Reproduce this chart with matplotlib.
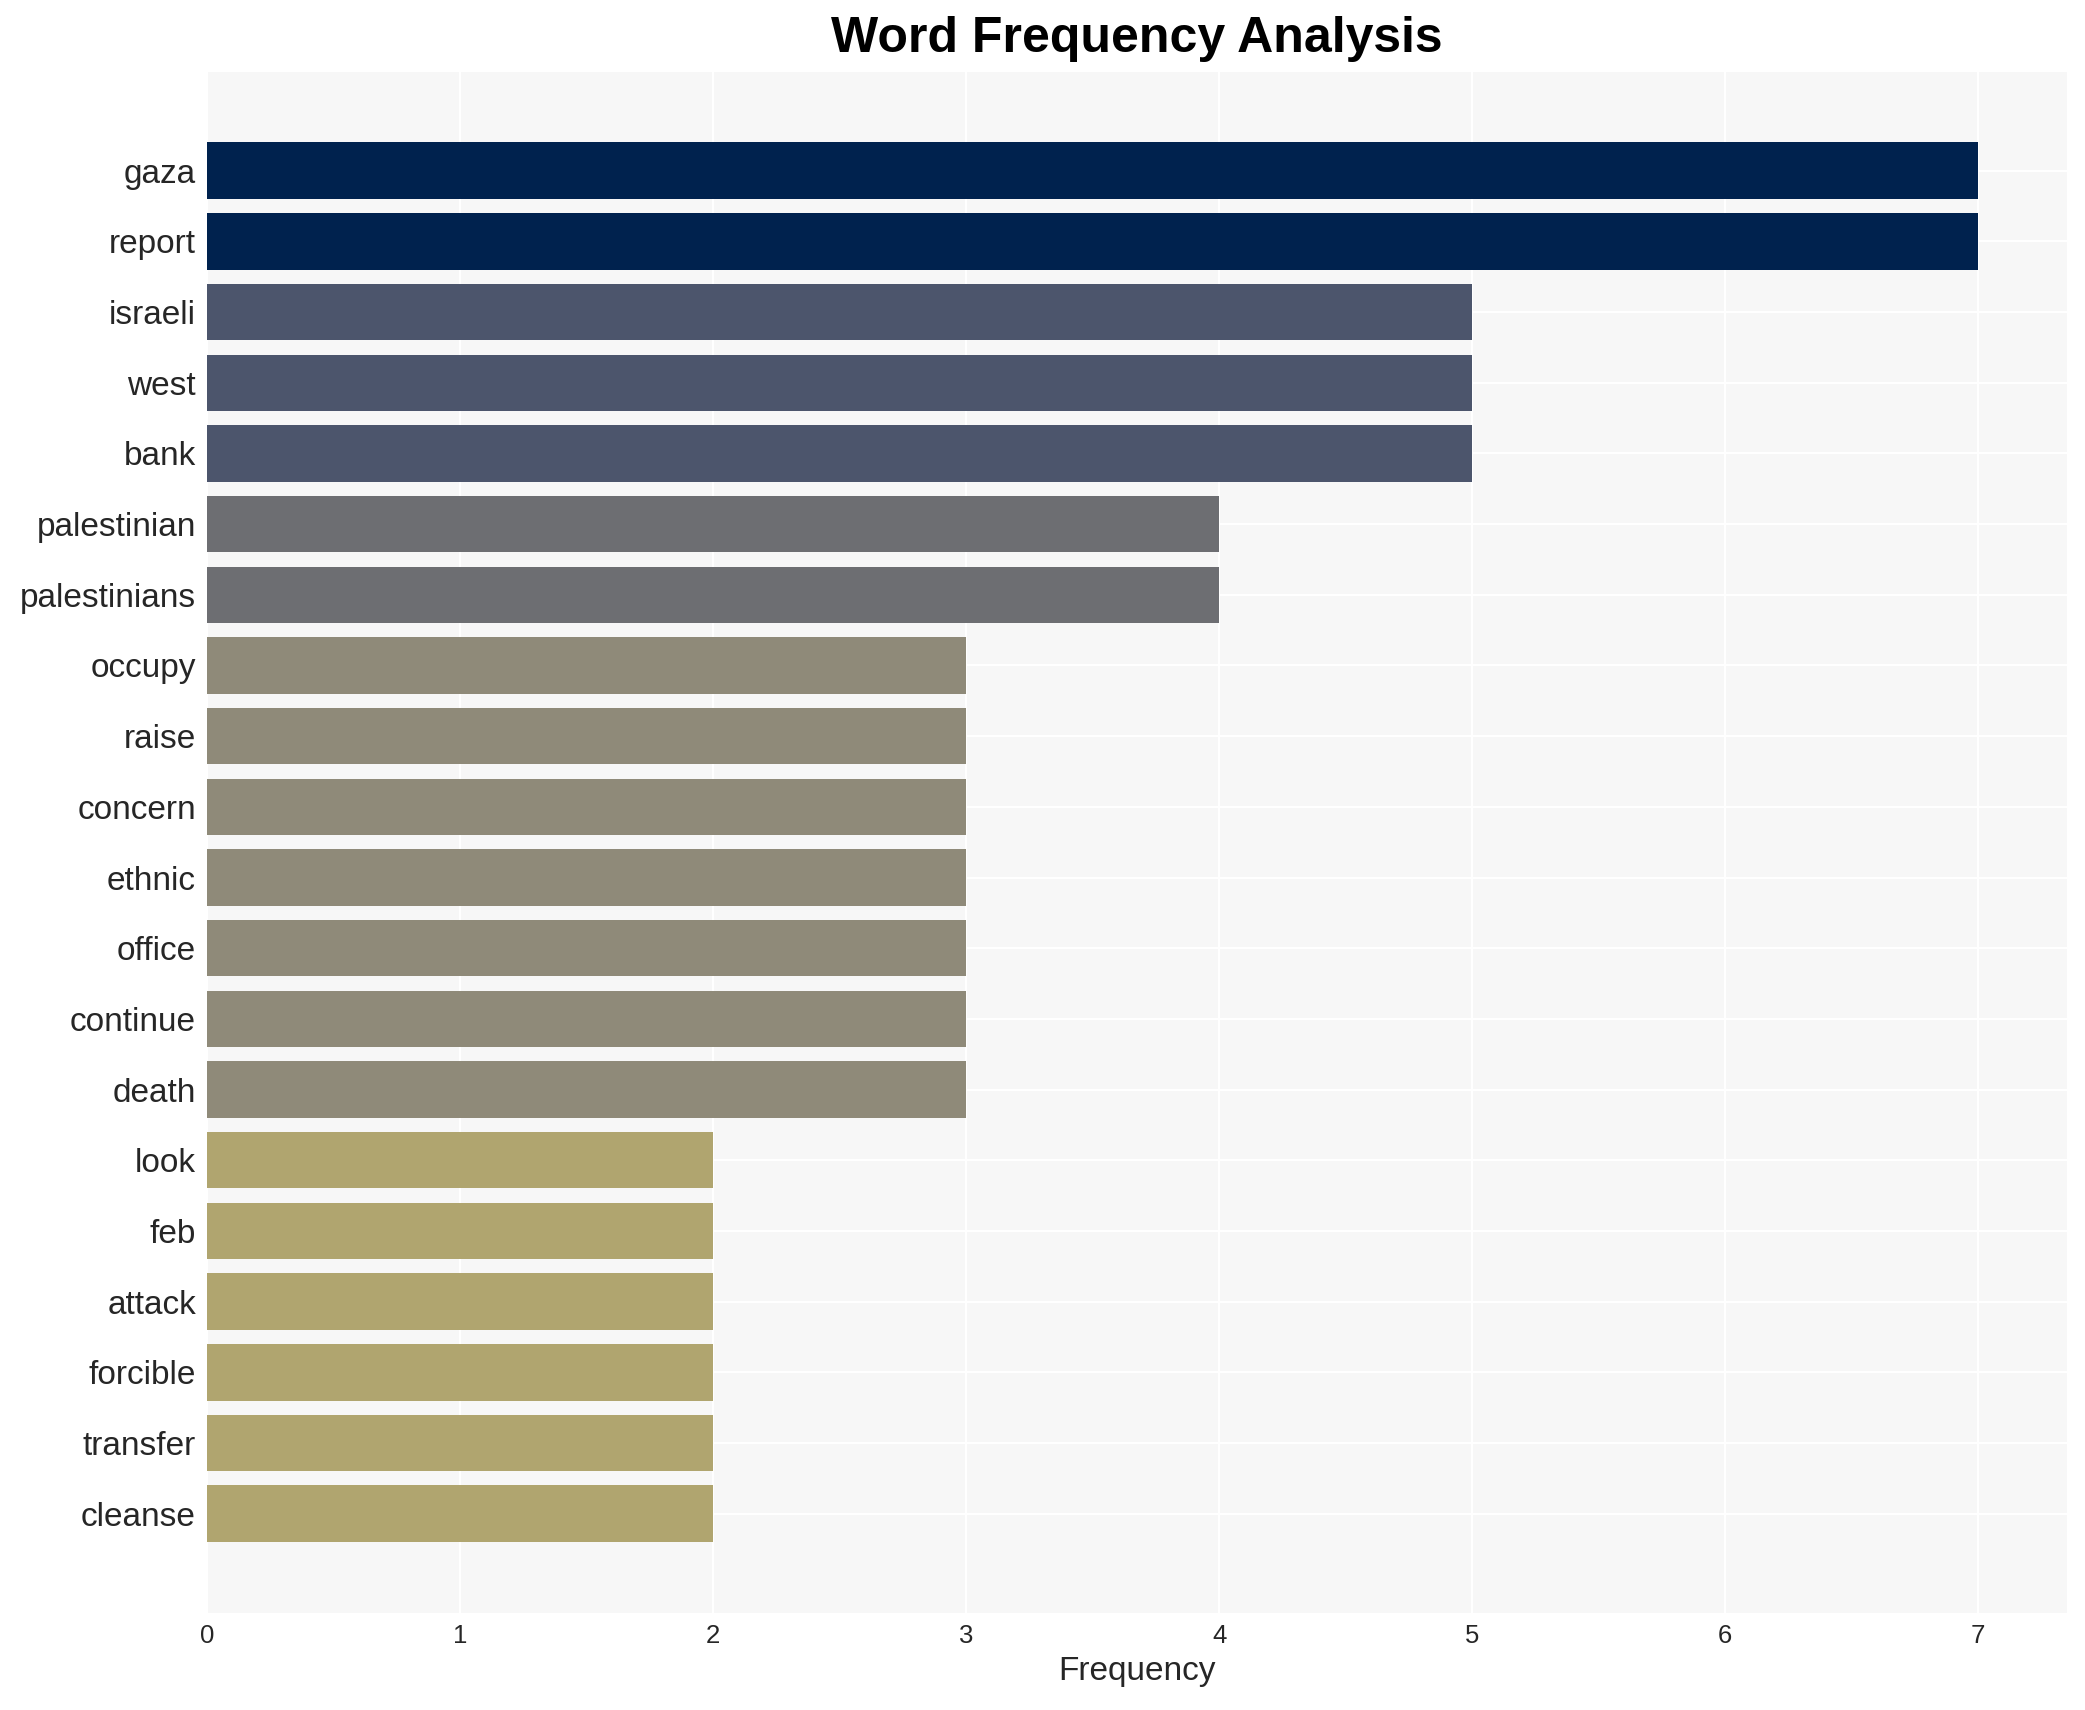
import numpy as np
import matplotlib
matplotlib.use("Agg")
import matplotlib.pyplot as plt

# word counts
words = ["gaza", "report", "israeli", "west", "bank", "palestinian", "palestinians",
         "occupy", "raise", "concern", "ethnic", "office", "continue", "death",
         "look", "feb", "attack", "forcible", "transfer", "cleanse"]
counts = [7, 7, 5, 5, 5, 4, 4, 3, 3, 3, 3, 3, 3, 3, 2, 2, 2, 2, 2, 2]

# one colour per frequency level
level_colors = {7: "#00224e", 5: "#4c556c", 4: "#6d6e72", 3: "#8f8a79", 2: "#b0a56f"}

plt.rcParams['font.family'] = ['Liberation Sans', 'DejaVu Sans']

fig = plt.figure(figsize=(20.85, 17.1), dpi=100)
ax = fig.add_axes([0.0993, 0.057, 0.892, 0.901])
ax.set_facecolor("#f7f7f7")

y = np.arange(len(words))
colors = [level_colors[c] for c in counts]
ax.barh(y, counts, height=0.8, color=colors, zorder=2)

ax.set_yticks(y)
ax.set_yticklabels(words, fontsize=24, color="#262626")
ax.set_ylim(len(words) - 1 + 1.4, -1.4)
ax.set_xlim(0, 7.35)
ax.set_xticks(range(0, 8))
ax.tick_params(axis='x', labelsize=18.5, colors="#262626", length=0, pad=8)
ax.tick_params(axis='y', length=0, pad=8)

ax.grid(True, color="white", linewidth=1.5, zorder=0)
ax.set_axisbelow(True)
for s in ax.spines.values():
    s.set_visible(False)

ax.set_xlabel("Frequency", fontsize=24, color="#262626", labelpad=6)
ax.set_title("Word Frequency Analysis", fontsize=36, fontweight="bold", pad=14)

fig.savefig("out.png", dpi=100)
